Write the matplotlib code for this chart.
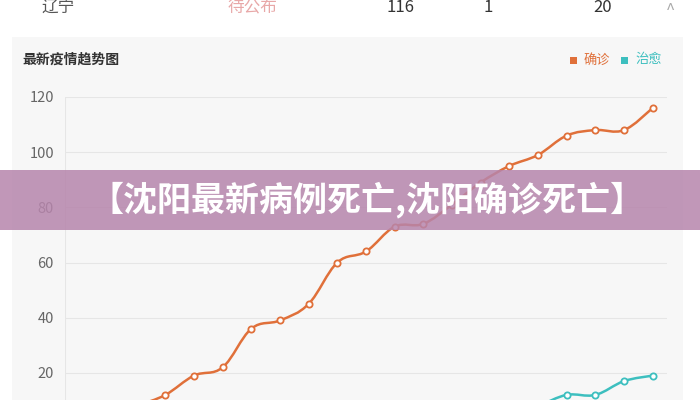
import matplotlib
matplotlib.use("Agg")
import matplotlib.pyplot as plt
import numpy as np
from matplotlib.path import Path
from matplotlib.patches import PathPatch, Rectangle

plt.rcParams['font.family'] = ['Noto Sans CJK SC', 'DejaVu Sans']

# data (the first points sit below the visible area)
confirmed = [2, 4, 8, 12, 19, 22, 36, 39, 45, 60, 64, 73, 74, 81, 89, 95, 99, 106, 108, 108, 116]
cured = [0, 0, 0, 0, 0, 0, 0, 0, 0, 1, 1, 2, 2, 3, 4, 5, 8, 12, 12, 17, 19]
y_ticks = [20, 40, 60, 80, 100, 120]
series_names = ['确诊', '治愈']
row_cells = ['辽宁', '待公布', '116', '1', '20']

ORANGE = '#e0703a'
TEAL = '#3dbfbf'
W, H = 700, 400


def fx(px):
    return px / W


def fy(py):
    return 1 - py / H


def smooth_path(xs, ys, s=0.18):
    # bezier path through the points (echarts-like smooth line)
    pts = np.column_stack([xs, ys]).astype(float)
    n = len(pts)
    verts = [pts[0]]
    codes = [Path.MOVETO]
    for i in range(n - 1):
        p0 = pts[max(i - 1, 0)]
        p1 = pts[i]
        p2 = pts[i + 1]
        p3 = pts[min(i + 2, n - 1)]
        c1 = p1 + (p2 - p0) * s
        c2 = p2 - (p3 - p1) * s
        verts += [c1, c2, p2]
        codes += [Path.CURVE4] * 3
    return Path(verts, codes)


fig = plt.figure(figsize=(7, 4), dpi=100)
fig.patch.set_facecolor('white')

# grey panel behind the chart
fig.patches.append(Rectangle((fx(12), 0), fx(683) - fx(12), fy(37), transform=fig.transFigure,
                             facecolor='#f7f7f7', edgecolor='none', zorder=-1))

# plot area: x 65..667 px, y value 0 at 428 px, 120 at 97 px
ax = fig.add_axes([fx(65), fy(428), fx(667) - fx(65), (428 - 97) / H])
ax.set_facecolor('none')
ax.set_xlim(-0.5, len(confirmed) - 0.5)
ax.set_ylim(0, 120)
for sp in ax.spines.values():
    sp.set_visible(False)
ax.set_xticks([])
ax.set_yticks(y_ticks)
ax.set_yticklabels([str(t) for t in y_ticks], color='#666666', fontsize=10.5)
ax.tick_params(axis='y', length=0, pad=8)
ax.yaxis.grid(True, color='#e6e6e6', linewidth=0.8)
ax.axvline(-0.5, color='#e6e6e6', linewidth=0.8)
ax.set_axisbelow(True)

x = np.arange(len(confirmed))
for vals, col in [(confirmed, ORANGE), (cured, TEAL)]:
    ax.add_patch(PathPatch(smooth_path(x, vals), facecolor='none', edgecolor=col, linewidth=1.8, zorder=3))
    ax.plot(x, vals, linestyle='none', marker='o', markersize=4.5, markerfacecolor='white',
            markeredgecolor=col, markeredgewidth=1.3, zorder=4)

# title and legend
fig.text(fx(22), fy(60), '最新疫情趋势图', fontsize=10, color='#333333', va='center', ha='left',
         fontweight='bold')
for name, col, px in [(series_names[0], ORANGE, 570), (series_names[1], TEAL, 621)]:
    fig.patches.append(Rectangle((fx(px), fy(63.5)), fx(7), 7 / H, transform=fig.transFigure,
                                 facecolor=col, edgecolor='none'))
    fig.text(fx(px + 14), fy(60), name, fontsize=9.5, color=col, va='center', ha='left')

# table row above the chart (cut off at the top, as in the page)
for txt, px, col in zip(row_cells, [58, 252, 400, 488, 603],
                        ['#555555', '#e8a8a8', '#333333', '#333333', '#333333']):
    fig.text(fx(px), fy(7), txt, fontsize=12, color=col, ha='center', va='center')
fig.text(fx(670), fy(11), '^', fontsize=12, color='#aaaaaa', ha='center', va='center')

# banner overlay
fig.patches.append(Rectangle((0, fy(230)), 1, 60 / H, transform=fig.transFigure,
                             facecolor='#b685ac', edgecolor='none', alpha=0.85, zorder=10))
fig.text(fx(367), fy(200), '【沈阳最新病例死亡,沈阳确诊死亡】', fontsize=24.5, fontweight='bold',
         color='white', ha='center', va='center', zorder=11)

fig.savefig('out.png', dpi=100)
